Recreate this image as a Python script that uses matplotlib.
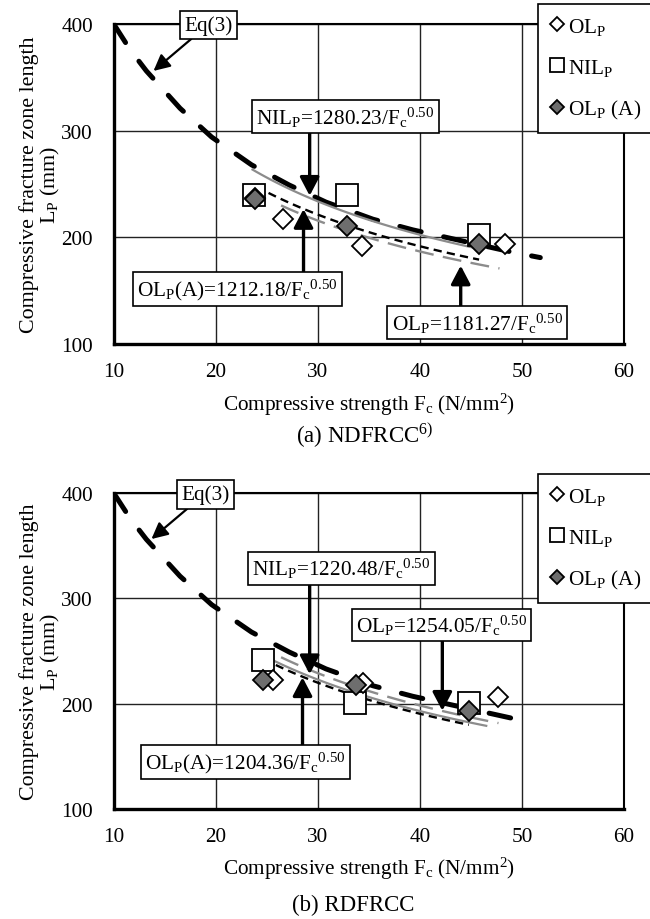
import numpy as np
import matplotlib.pyplot as plt
from matplotlib.patches import ArrowStyle

plt.rcParams['font.family'] = 'Liberation Serif'
plt.rcParams['mathtext.fontset'] = 'custom'
plt.rcParams['mathtext.rm'] = 'Liberation Serif'
plt.rcParams['mathtext.it'] = 'Liberation Serif:italic'
plt.rcParams['font.size'] = 15

# Eq(3) curve
eq3_fc = [10, 11.6, 13.2, 16.5, 19.6, 23.5, 27.2, 30.8, 35.4, 39.3, 43.5, 49.1, 51.8]
eq3_lp = [400, 376, 356, 321, 294, 268, 249, 233, 217, 207, 198, 186, 181]

# (a) NDFRCC
a_ol_fc = [23.8, 26.6, 34.3, 48.3]
a_ol_lp = [237, 217, 192, 194]
a_nil_fc = [23.7, 32.9, 45.8]
a_nil_lp = [240, 240, 202]
a_ola_fc = [23.8, 32.9, 45.8]
a_ola_lp = [236, 211, 194]
a_coef = {'ol': 1181.27, 'nil': 1280.23, 'ola': 1212.18}
a_range = {'ol': (26.4, 47.8), 'nil': (23.6, 46.0), 'ola': (24.0, 45.8)}

# (b) RDFRCC
b_ol_fc = [25.6, 34.4, 47.7]
b_ol_lp = [222, 220, 206]
b_nil_fc = [24.6, 33.6, 44.8]
b_nil_lp = [241, 201, 201]
b_ola_fc = [24.6, 33.7, 44.8]
b_ola_lp = [222, 218, 193]
b_coef = {'ol': 1254.05, 'nil': 1220.48, 'ola': 1204.36}
b_range = {'ol': (26.4, 47.7), 'nil': (24.6, 46.5), 'ola': (24.7, 44.8)}

W, H = 650, 920
fig = plt.figure(figsize=(W / 100, H / 100), dpi=100)


def px_axes(left, top, right, bottom):
    return fig.add_axes([left / W, 1 - bottom / H, (right - left) / W, (bottom - top) / H])


def fit_label(name, coef):
    return name + '=%.2f/F$_\\mathrm{c}$$^{0.50}$' % coef


box = dict(boxstyle='square,pad=0.2', fc='white', ec='black', lw=1.2)
big_head = ArrowStyle('-|>', head_length=0.8, head_width=0.42)
small_head = ArrowStyle('-|>', head_length=0.7, head_width=0.35)


def arrow(ax, tail, head, heavy=True):
    if heavy:
        props = dict(arrowstyle=big_head, mutation_scale=14, lw=2.4, color='black',
                     shrinkA=0, shrinkB=0)
    else:
        props = dict(arrowstyle=small_head, mutation_scale=14, lw=1.6, color='black',
                     shrinkA=0, shrinkB=0)
    ax.annotate('', xy=head, xytext=tail, arrowprops=props, zorder=8)


def label(ax, x, y, s):
    ax.text(x, y, s, ha='center', va='center', fontsize=15.3, bbox=box, zorder=9)


def panel(ax, ol, nil, ola, coef, rng, eq3_end, legend_top):
    ax.set_xlim(10, 60)
    ax.set_ylim(100, 400)
    ax.set_xticks(range(10, 61, 10))
    ax.set_yticks(range(100, 401, 100))
    ax.grid(True, color='#222222', lw=1.0)
    ax.set_axisbelow(True)
    ax.tick_params(length=0, labelsize=15.3)
    ax.tick_params(axis='x', pad=13)
    ax.tick_params(axis='y', pad=15)
    for side in ['left', 'bottom']:
        ax.spines[side].set_linewidth(2.4)
    for side in ['top', 'right']:
        ax.spines[side].set_linewidth(1.5)

    # Eq(3)
    ax.plot(eq3_fc[:eq3_end], eq3_lp[:eq3_end], color='black', lw=3.6,
            dashes=(4.4, 4.6), dash_capstyle='round', zorder=3)

    # fitted curves
    x = np.linspace(*rng['nil'], 100)
    ax.plot(x, coef['nil'] / np.sqrt(x), color='#8c8c8c', lw=1.6, zorder=3)
    x = np.linspace(*rng['ola'], 100)
    ax.plot(x, coef['ola'] / np.sqrt(x), color='black', lw=1.7, dashes=(3.5, 2.2), zorder=3)
    x = np.linspace(*rng['ol'], 100)
    ax.plot(x, coef['ol'] / np.sqrt(x), color='#8c8c8c', lw=1.7, dashes=(8, 4), zorder=3)

    h_nil, = ax.plot(*nil, ls='none', marker='s', ms=15.5, mfc='white', mec='black',
                     mew=1.3, zorder=5, label='NIL$_\\mathrm{P}$')
    h_ol, = ax.plot(*ol, ls='none', marker='D', ms=10.5, mfc='white', mec='black',
                    mew=1.3, zorder=6, label='OL$_\\mathrm{P}$')
    h_ola, = ax.plot(*ola, ls='none', marker='D', ms=10.5, mfc='#6e6e6e', mec='black',
                     mew=1.3, zorder=7, label='OL$_\\mathrm{P}$ (A)')

    leg = ax.legend(handles=[h_ol, h_nil, h_ola], loc='upper left',
                    bbox_to_anchor=(538 / W, 1 - legend_top / H),
                    bbox_transform=fig.transFigure, fontsize=15.3, markerscale=0.68,
                    frameon=True, fancybox=False, edgecolor='black', framealpha=1,
                    handlelength=0.7, handletextpad=0.15, labelspacing=0.95,
                    borderpad=0.55, borderaxespad=0)
    leg.get_frame().set_linewidth(1.2)
    leg.set_zorder(10)

    ax.set_xlabel('Compressive strength F$_\\mathrm{c}$ (N/mm$^2$)', fontsize=15.3)
    ax.xaxis.set_label_coords(0.5, -0.145)
    ax.set_ylabel('Compressive fracture zone length\nL$_\\mathrm{P}$ (mm)',
                  fontsize=15.8, linespacing=0.95)
    ax.yaxis.set_label_coords(-0.102, 0.5)


# (a) NDFRCC
ax1 = px_axes(113.7, 25, 624, 345)
panel(ax1, (a_ol_fc, a_ol_lp), (a_nil_fc, a_nil_lp), (a_ola_fc, a_ola_lp),
      a_coef, a_range, len(eq3_fc), 5)
label(ax1, 19.3, 399, 'Eq(3)')
arrow(ax1, (17.6, 386), (13.9, 356), heavy=False)
label(ax1, 32.7, 313, fit_label('NIL$_\\mathrm{P}$', a_coef['nil']))
arrow(ax1, (29.2, 301), (29.2, 239))
label(ax1, 22.1, 151.6, fit_label('OL$_\\mathrm{P}$(A)', a_coef['ola']))
arrow(ax1, (28.6, 161), (28.6, 226.5))
label(ax1, 45.6, 120, fit_label('OL$_\\mathrm{P}$', a_coef['ol']))
arrow(ax1, (44.0, 133.5), (44.0, 173.5))
fig.text(365 / W, 1 - 436 / H, '(a) NDFRCC$^{6)}$', ha='center', va='center', fontsize=16.5)

# (b) RDFRCC
ax2 = px_axes(113.7, 494, 624, 810)
panel(ax2, (b_ol_fc, b_ol_lp), (b_nil_fc, b_nil_lp), (b_ola_fc, b_ola_lp),
      b_coef, b_range, len(eq3_fc) - 1, 475)
label(ax2, 19.0, 398.6, 'Eq(3)')
arrow(ax2, (17.2, 385), (13.7, 356.3), heavy=False)
label(ax2, 32.3, 328.6, fit_label('NIL$_\\mathrm{P}$', b_coef['nil']))
arrow(ax2, (29.2, 316), (29.2, 228))
label(ax2, 42.1, 274.7, fit_label('OL$_\\mathrm{P}$', b_coef['ol']))
arrow(ax2, (42.2, 261.4), (42.2, 193.3))
label(ax2, 22.9, 144.6, fit_label('OL$_\\mathrm{P}$(A)', b_coef['ola']))
arrow(ax2, (28.5, 158), (28.5, 225))
fig.text(353 / W, 1 - 905 / H, '(b) RDFRCC', ha='center', va='center', fontsize=16.5)

fig.savefig('out.png', dpi=100)
